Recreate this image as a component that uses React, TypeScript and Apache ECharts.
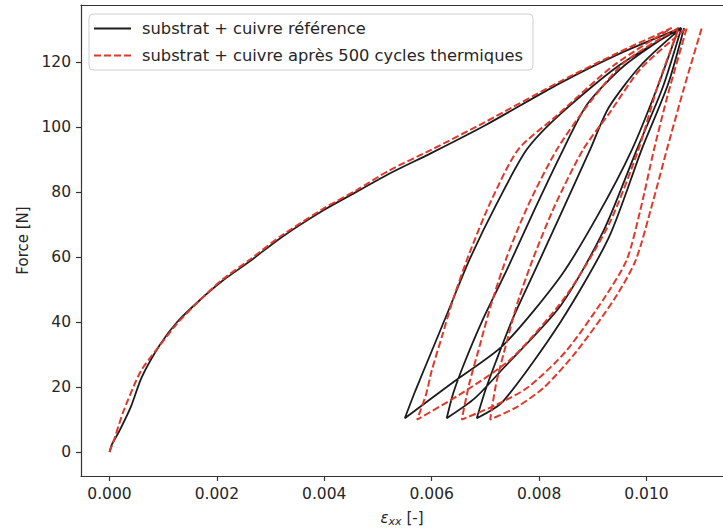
import React, { useEffect, useRef } from "react";
import * as echarts from "echarts";

// ---- data (strain ε_xx [-], force [N]) ----
const xTicks = [0, 0.002, 0.004, 0.006, 0.008, 0.01];
const yTicks = [0, 20, 40, 60, 80, 100, 120];

const refName = "substrat + cuivre référence";
const redName = "substrat + cuivre après 500 cycles thermiques";

// reference (black)
const refLoading = [
  [0, 0], [0.00005, 2.5], [0.0001, 4], [0.0002, 7], [0.0004, 14], [0.0006, 23],
  [0.00094, 33], [0.00126, 40], [0.0017, 47], [0.0021, 52.6], [0.0026, 58.5],
  [0.0032, 66], [0.004, 74.5], [0.0046, 80], [0.0052, 85.5], [0.006, 92],
  [0.007, 100.5], [0.0084, 113.5], [0.0095, 122.5], [0.01065, 130.4],
];
const refUnload1 = [
  [0.0095, 119], [0.0084, 104], [0.00777, 93], [0.0072, 76], [0.0067, 59],
  [0.0063, 43], [0.006, 31], [0.0057, 19], [0.0055, 10.4],
];
const refReload1 = [
  [0.0064, 21.5], [0.00733, 32.8], [0.0084, 54], [0.0091, 73], [0.00973, 93],
  [0.0102, 112], [0.0106, 130.4],
];
const refUnload2 = [
  [0.0096, 119], [0.0089, 107], [0.00845, 93], [0.0079, 74], [0.0074, 56],
  [0.00696, 41], [0.0066, 27], [0.0064, 18], [0.00628, 10.4],
];
const refReload2 = [
  [0.0068, 16.5], [0.00733, 25.7], [0.0084, 45], [0.0092, 68], [0.00982, 93],
  [0.0103, 112], [0.01065, 130.4],
];
const refUnload3 = [
  [0.0099, 119], [0.0093, 106], [0.00895, 93], [0.0084, 73], [0.0079, 55],
  [0.00751, 41], [0.0072, 28], [0.007, 19], [0.00684, 10.4],
];
const refReload3 = [
  [0.00733, 15.6], [0.0084, 40], [0.0093, 66], [0.00991, 93], [0.0104, 113],
  [0.0107, 130.4],
];

// after 500 thermal cycles (red dashed)
const redLoading = [
  [0, 0], [0.0001, 4.5], [0.00026, 12.5], [0.00058, 24.8], [0.00089, 31.8],
  [0.00126, 39.5], [0.0017, 47], [0.0021, 53], [0.0026, 59], [0.0032, 66.5],
  [0.004, 75], [0.0046, 80.5], [0.0052, 86.5], [0.006, 93], [0.007, 101.5],
  [0.0084, 114], [0.0095, 123], [0.01047, 130.4],
];
const redUnload1 = [
  [0.0094, 119], [0.0083, 103], [0.00761, 93], [0.0071, 77], [0.0067, 61],
  [0.0064, 47], [0.0062, 36], [0.006, 25], [0.0059, 18], [0.00573, 10],
];
const redReload1 = [
  [0.0066, 18.5], [0.0075, 29], [0.0085, 48], [0.0093, 70], [0.00985, 93],
  [0.0102, 112], [0.0106, 130.4],
];
const redUnload2 = [
  [0.0096, 120], [0.0089, 106.5], [0.00833, 93], [0.0078, 76], [0.0074, 60],
  [0.0071, 45], [0.0069, 33], [0.0067, 21], [0.00656, 10],
];
const redReload2 = [
  [0.0072, 14.5], [0.0078, 20], [0.0085, 31], [0.0092, 47], [0.00963, 59],
  [0.00988, 74], [0.01014, 93], [0.0104, 110], [0.01075, 130.4],
];
const redUnload3 = [
  [0.0099, 118], [0.0093, 104], [0.00882, 93], [0.0083, 76], [0.0079, 60],
  [0.0076, 46], [0.0074, 34], [0.0072, 21], [0.00709, 10],
];
const redReload3 = [
  [0.0076, 14], [0.0081, 20], [0.0087, 31], [0.0094, 47], [0.0098, 59],
  [0.01012, 77], [0.01038, 93], [0.0107, 112], [0.01103, 130.4],
];

const refPath = [
  ...refLoading, ...refUnload1, ...refReload1, ...refUnload2,
  ...refReload2, ...refUnload3, ...refReload3,
];
const redPath = [
  ...redLoading, ...redUnload1, ...redReload1, ...redUnload2,
  ...redReload2, ...redUnload3, ...redReload3,
];

const FONT = "DejaVu Sans";
const TXT = "#262626";
const SPINE = "#333";
const X_MIN = -0.00053;
const X_MAX = 0.011425;

export default function App() {
  const ref = useRef<HTMLDivElement>(null);
  useEffect(() => {
    if (!ref.current) return;
    const chart = echarts.init(ref.current, undefined, { renderer: "svg" });
    chart.setOption({
      animation: false,
      backgroundColor: "#ffffff",
      textStyle: { fontFamily: FONT },
      grid: { left: 81, top: 5, right: 0, height: 473, show: false },
      legend: {
        orient: "vertical",
        left: 89, top: 14,
        padding: [5, 10, 5, 4],
        itemGap: 8,
        itemWidth: 37,
        itemHeight: 19,
        selectedMode: false,
        backgroundColor: "#fff",
        borderColor: "#cfcfcf",
        borderWidth: 1,
        borderRadius: 4,
        itemStyle: { opacity: 0 },
        textStyle: { fontFamily: FONT, fontSize: 16.3, color: TXT, lineHeight: 19, padding: [0, 0, 0, 6] },
        data: [refName, redName],
      },
      xAxis: [
        {
          type: "value",
          min: X_MIN,
          max: X_MAX,
          name: "{i|ε}{s|xx} [-]",
          nameLocation: "middle",
          nameGap: 33,
          nameTextStyle: {
            fontFamily: FONT, fontSize: 15, color: TXT,
            rich: {
              i: { fontFamily: FONT, fontSize: 15, fontStyle: "italic", color: TXT },
              s: { fontFamily: FONT, fontSize: 11, fontStyle: "italic", color: TXT, padding: [7, 0, 0, 0] },
            },
          },
          splitLine: { show: false },
          axisLine: { show: true, onZero: false, lineStyle: { color: SPINE, width: 1.2 } },
          axisTick: { show: true, customValues: xTicks, length: 5, lineStyle: { color: SPINE, width: 1.2 } },
          axisLabel: {
            customValues: xTicks, margin: 10, fontFamily: FONT, fontSize: 15.5, color: TXT,
            formatter: (v: number) => v.toFixed(3),
          },
        },
        {
          type: "value",
          position: "top",
          min: X_MIN,
          max: X_MAX,
          splitLine: { show: false },
          axisLine: { show: true, onZero: false, lineStyle: { color: SPINE, width: 1.2 } },
          axisTick: { show: false },
          axisLabel: { show: false },
        },
      ],
      yAxis: {
        type: "value",
        min: -7.35,
        max: 137.45,
        name: "Force [N]",
        nameLocation: "middle",
        nameGap: 51,
        nameTextStyle: { fontFamily: FONT, fontSize: 15, color: TXT },
        splitLine: { show: false },
        axisLine: { show: true, onZero: false, lineStyle: { color: SPINE, width: 1.2 } },
        axisTick: { show: true, customValues: yTicks, length: 5, lineStyle: { color: SPINE, width: 1.2 } },
        axisLabel: {
          customValues: yTicks, margin: 10, fontFamily: FONT, fontSize: 15.5, color: TXT,
        },
      },
      series: [
        {
          name: refName, type: "line", data: refPath, symbol: "none", showSymbol: false,
          smooth: 0.25, lineStyle: { color: "#1c1c1c", width: 1.8 }, itemStyle: { color: "#1c1c1c" }, z: 2,
        },
        {
          name: redName, type: "line", data: redPath, symbol: "none", showSymbol: false,
          smooth: 0.25, lineStyle: { color: "#e0392c", width: 2, type: [7, 3] }, itemStyle: { color: "#e0392c" }, z: 3,
        },
      ],
    });
    return () => chart.dispose();
  }, []);
  return (
    <div
      ref={ref}
      style={{ position: "fixed", left: 0, top: 0, width: 723, height: 532, background: "#fff" }}
    />
  );
}
